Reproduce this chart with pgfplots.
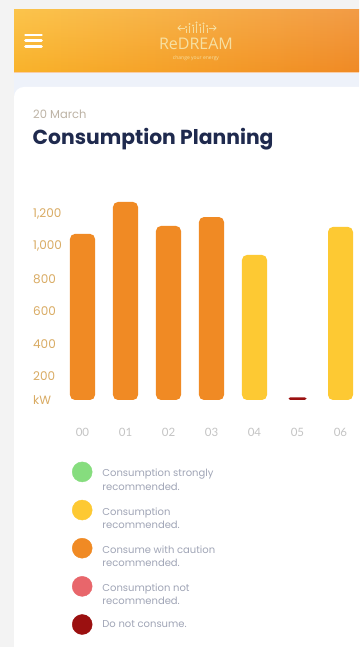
\documentclass[border=0pt]{standalone}
\usepackage{pgfplots}
\pgfplotsset{compat=1.18}
\usepackage{fontspec}
\setmainfont{Poppins}
\newfontfamily\lato{Lato}
\newfontfamily\osans{Open Sans}
\definecolor{barorange}{HTML}{F08A24}
\definecolor{baryellow}{HTML}{FDC933}
\definecolor{bardark}{HTML}{9B1010}
\definecolor{lgreen}{HTML}{86DD7E}
\definecolor{lpink}{HTML}{E8666B}
\definecolor{navy}{HTML}{1F2A4E}
\definecolor{datecol}{HTML}{BDB3A5}
\definecolor{tickgold}{HTML}{D9AB63}
\definecolor{xtickcol}{HTML}{C4C4C4}
\definecolor{legtext}{HTML}{A0A5B6}
\definecolor{cream}{HTML}{F6E6AE}
\definecolor{pagegray}{HTML}{F3F3F3}
\definecolor{stripblue}{HTML}{EEF2FA}
\definecolor{hL}{HTML}{FBBA2C}
\definecolor{hM}{HTML}{F7A229}
\definecolor{hR}{HTML}{F08A25}
\definecolor{peach}{HTML}{F9CDA6}
\begin{document}
\begin{tikzpicture}[x=1pt,y=1pt]
\path[use as bounding box] (0,0) rectangle (359,647);
\clip (0,0) rectangle (359,647);
\fill[pagegray] (0,0) rectangle (359,647);
\fill[stripblue] (14,647-95) rectangle (359,647-72);
\fill[white, rounded corners=10pt] (14,-20) rectangle (390,647-87);
\shade[left color=hL, middle color=hM, right color=hR] (14,647-72) rectangle (359,647-10);
\shade[top color=white, bottom color=hR, opacity=0.15] (14,647-72) rectangle (359,647-10);
\fill[peach] (14,647-73.5) rectangle (359,647-72);
% menu icon
\foreach \yy in {35,40.7,46.4}{\draw[white, line width=2.8pt, line cap=round] (25.5,647-\yy) -- (41.5,647-\yy);}
% logo icon
\begin{scope}[cream, line width=0.9pt, opacity=0.85]
\draw (178,647-28) -- (185,647-28);
\draw (180.5,647-25.5) -- (178,647-28) -- (180.5,647-30.5);
\draw (209,647-28) -- (216,647-28);
\draw (213.5,647-25.5) -- (216,647-28) -- (213.5,647-30.5);
\foreach \xx/\tt in {186/27,189.5/24,193/25.5,196.5/22.5,200/25,203.5/23.5,207/26}{
  \draw (\xx,647-33) -- (\xx,647-\tt-2);
  \fill (\xx,647-\tt) circle (1.1);
}
\end{scope}
\node[cream, opacity=0.9, font=\osans\fontsize{16}{16}\selectfont, anchor=base, inner sep=0pt] at (196,647-50) {ReDREAM};
\node[cream, opacity=0.9, font=\osans\fontsize{5}{5}\selectfont, inner sep=0pt] at (196,647-58) {change your energy};
% titles
\node[anchor=base west, text=datecol, font=\fontsize{11.5}{11.5}\selectfont, inner sep=0pt] at (33,647-118.5) {20 March};
\node[anchor=base west, text=navy, font=\bfseries\fontsize{20.3}{20.3}\selectfont, inner sep=0pt] at (32.5,647-145) {Consumption Planning};
\begin{axis}[
  at={(61pt,247pt)}, anchor=south west,
  scale only axis, width=296.7pt, height=205pt,
  xmin=-0.5, xmax=6.4, ymin=52, ymax=1317,
  axis line style={draw=none}, tick style={draw=none},
  xtick={0,...,6}, xticklabels={00,01,02,03,04,05,06},
  ytick={200,400,...,1200},
  extra y ticks={52}, extra y tick labels={kW},
  /pgf/number format/assume math mode=true,
  yticklabel style={anchor=west, xshift=-28pt, inner sep=0pt, text=tickgold, font=\fontsize{12}{12}\selectfont},
  xticklabel style={anchor=center, yshift=-32pt, inner sep=0pt, text=xtickcol, font=\lato\fontsize{11.5}{11.5}\selectfont},
  legend style={at={(axis description cs:0.0371,-0.301)}, anchor=north west, draw=none, fill=none, inner sep=0pt, outer sep=0pt, row sep=14.9pt, column sep=10pt, font=\fontsize{10}{13.5}\selectfont, nodes={text=legtext, inner sep=0pt, outer sep=0pt}},
  legend cell align=left,
]
\addplot[ybar, bar width=25pt, bar shift=0pt, fill=barorange, draw=none, rounded corners=5pt, forget plot] coordinates {(0,1077) (1,1274) (2,1126) (3,1181)};
\addplot[ybar, bar width=25pt, bar shift=0pt, fill=baryellow, draw=none, rounded corners=5pt, forget plot] coordinates {(4,947) (6,1120)};
\addplot[ybar, bar width=18pt, bar shift=0pt, fill=bardark, draw=none, rounded corners=1.5pt, forget plot] coordinates {(5,68)};
\addlegendimage{legend image code/.code={\fill[lgreen] (10pt,4.3pt) circle (10pt);}}
\addlegendentry{\begin{tabular}{@{}l@{}}Consumption strongly\\recommended.\end{tabular}}
\addlegendimage{legend image code/.code={\fill[baryellow] (10pt,4.3pt) circle (10pt);}}
\addlegendentry{\begin{tabular}{@{}l@{}}Consumption\\recommended.\end{tabular}}
\addlegendimage{legend image code/.code={\fill[barorange] (10pt,4.3pt) circle (10pt);}}
\addlegendentry{\begin{tabular}{@{}l@{}}Consume with caution\\recommended.\end{tabular}}
\addlegendimage{legend image code/.code={\fill[lpink] (10pt,4.3pt) circle (10pt);}}
\addlegendentry{\begin{tabular}{@{}l@{}}Consumption not\\recommended.\end{tabular}}
\addlegendimage{legend image code/.code={\fill[bardark] (10pt,0pt) circle (10pt);}}
\addlegendentry{Do not consume.}
\end{axis}
\end{tikzpicture}
\end{document}
